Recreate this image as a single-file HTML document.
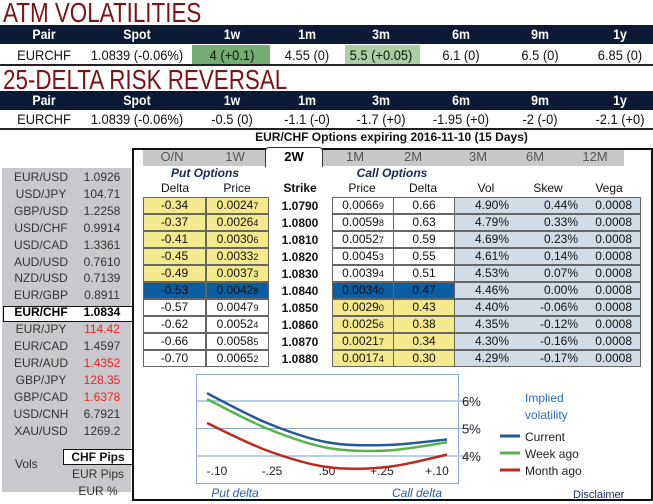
<!DOCTYPE html>
<html><head><meta charset="utf-8">
<style>
*{box-sizing:border-box;margin:0;padding:0}
body{width:653px;height:504px;background:#fff;position:relative;overflow:hidden;font-family:"Liberation Sans",Arial,sans-serif;color:#111}
.abs{position:absolute}
.title{font-family:"Liberation Sans",sans-serif;color:#7a1416;font-size:28px;line-height:24px;left:3px;transform:scaleX(0.8);transform-origin:0 0;white-space:nowrap}
.hbar{left:0;width:653px;height:19px;background:#0c1a36}
.ht{color:#fff;font-weight:bold;font-size:14px;text-align:center;width:80px;margin-left:-40px;top:1px;transform:scaleX(0.88)}
.rt{font-size:14px;text-align:center;width:80px;margin-left:-40px;color:#111;transform:scaleX(0.92);white-space:nowrap}
.line{left:0;width:653px;height:2px;background:#222}
.cell{position:absolute;height:17px;border:1px solid #666;font-size:12px;text-align:center;line-height:15px}
.sm{font-size:12px;text-align:center;position:absolute}
</style></head><body>
<div class="abs title" style="top:1px">ATM VOLATILITIES</div>
<div class="abs hbar" style="top:25px"></div>
<div class="abs" style="left:192px;top:45px;width:78px;height:19px;background:#72ad72"></div>
<div class="abs" style="left:345px;top:45px;width:75px;height:19px;background:#a9d0a2"></div>
<div class="abs line" style="top:64px"></div>
<div class="abs title" style="top:68px">25-DELTA RISK REVERSAL</div>
<div class="abs hbar" style="top:91px"></div>
<div class="abs line" style="top:128px"></div>
<div id="tops"></div>

<div class="abs" style="left:0;width:653px;text-align:center;padding-left:130px;top:130px;font-size:12px;font-weight:bold">EUR/CHF Options expiring 2016-11-10 (15 Days)</div>
<div class="abs" style="left:132px;top:148px;width:521px;height:353px;border:2px solid #111"></div>
<div class="abs" style="left:143px;top:150px;width:481px;height:16px;background:#c8c8c8"></div>
<div class="abs" style="left:265px;top:147px;width:58px;height:20px;background:#fff;border:1px solid #333;border-bottom:none;border-radius:4px 4px 0 0"></div>
<div id="tabs"></div>
<div class="abs" style="left:150px;top:166px;width:110px;text-align:center;font-size:12px;font-weight:bold;font-style:italic;color:#1a2a5a">Put Options</div>
<div class="abs" style="left:337px;top:166px;width:110px;text-align:center;font-size:12px;font-weight:bold;font-style:italic;color:#1a2a5a">Call Options</div>
<div id="grid"></div>

<div class="abs" style="left:2px;top:168px;width:129px;height:324px;background:#c9c9cd"></div>
<div class="abs" style="left:3px;top:306px;width:130px;height:16px;background:#fff;border:1px solid #111"></div>
<div id="fx"></div>
<div class="abs" style="left:63px;top:449px;width:70px;height:16px;background:#fff;border:1px solid #111;font-size:12px;font-weight:bold;text-align:center;line-height:14px">CHF Pips</div>
<div class="abs" style="left:15px;top:457px;font-size:12px;color:#333">Vols</div>
<div class="abs" style="left:63px;top:467px;width:70px;text-align:center;font-size:12px;color:#333">EUR Pips</div>
<div class="abs" style="left:63px;top:484px;width:70px;text-align:center;font-size:12px;color:#333">EUR %</div>

<svg class="abs" style="left:0;top:0" width="653" height="504" id="chart"></svg>

<script>
const cols=[44,137,232,307,381,461,540,620];
const hdr=['Pair','Spot','1w','1m','3m','6m','9m','1y'];
const atmRow=['EURCHF','1.0839 (-0.06%)','4 (+0.1)','4.55 (0)','5.5 (+0.05)','6.1 (0)','6.5 (0)','6.85 (0)'];
const rrRow=['EURCHF','1.0839 (-0.06%)','-0.5 (0)','-1.1 (-0)','-1.7 (+0)','-1.95 (+0)','-2 (-0)','-2.1 (+0)'];
const tops=document.getElementById('tops');
[[26,47,atmRow,'atm'],[92,111,rrRow,'rr']].forEach(([hy,ry,row,p])=>{
 hdr.forEach((h,i)=>{
  const d=document.createElement('div');d.className='abs ht';d.style.left=cols[i]+'px';d.style.top=hy+'px';d.textContent=h;
  
  
  tops.appendChild(d);
  const r=document.createElement('div');r.className='abs rt';r.style.left=cols[i]+'px';r.style.top=ry+'px';r.textContent=row[i];
  if(i===1){r.style.width='120px';r.style.marginLeft='-60px';}
  
  
  tops.appendChild(r);
 });
});
const tabs=['O/N','1W','2W','1M','2M','3M','6M','12M'];
const tabX=[172,235,294,355,413,478,535,595];
const tb=document.getElementById('tabs');
tabs.forEach((t,i)=>{
 const d=document.createElement('div');d.className='abs';
 d.style.cssText=`left:${tabX[i]-25}px;top:149px;width:50px;text-align:center;font-size:13px;color:${i==2?'#000':'#555'};font-weight:${i==2?'bold':'normal'}`;
 d.textContent=t;
 
 
 tb.appendChild(d);
});
const putDelta=['-0.34','-0.37','-0.41','-0.45','-0.49','-0.53','-0.57','-0.62','-0.66','-0.70'];
const putPrice=['0.00247','0.00264','0.00306','0.00332','0.00373','0.00428','0.00479','0.00524','0.00585','0.00652'];
const strikes=['1.0790','1.0800','1.0810','1.0820','1.0830','1.0840','1.0850','1.0860','1.0870','1.0880'];
const callPrice=['0.00669','0.00598','0.00527','0.00453','0.00394','0.00340','0.00290','0.00256','0.00217','0.00174'];
const callDelta=['0.66','0.63','0.59','0.55','0.51','0.47','0.43','0.38','0.34','0.30'];
const vols=['4.90%','4.79%','4.69%','4.61%','4.53%','4.46%','4.40%','4.35%','4.30%','4.29%'];
const skews=['0.44%','0.33%','0.23%','0.14%','0.07%','0.00%','-0.06%','-0.12%','-0.16%','-0.17%'];
const vega=['0.0008','0.0008','0.0008','0.0008','0.0008','0.0008','0.0008','0.0008','0.0008','0.0008'];
const g=document.getElementById('grid');
const heads=[['Delta',175],['Price',237],['Strike',300],['Price',362],['Delta',423],['Vol',486],['Skew',548],['Vega',609]];
heads.forEach(([h,x],i)=>{
 const d=document.createElement('div');d.className='sm';
 d.style.cssText=`left:${x-30}px;top:181px;width:60px;font-size:12px;font-weight:${i==2?'bold':'normal'}`;
 d.textContent=h;
 
 
 g.appendChild(d);
});
const yel='#f4e98c',blu='#0b5ea2',lb='#d2dce7';
function price(s){return s.slice(0,6)+'<span style="font-size:9px">'+s.slice(6)+'</span>';}
for(let r=0;r<10;r++){
 const y=197+r*17;
 const atm=r===5;
 const putBg=atm?blu:(r<5?yel:'#fff');
 const callBg=atm?blu:(r>5?yel:'#fff');
 const cells=[[143,63,putBg,putDelta[r],'put-delta'],[206,63,putBg,price(putPrice[r]),'put-price'],
  [332,62,callBg,price(callPrice[r]),'call-price'],[393,62,callBg,callDelta[r],'call-delta']];
 cells.forEach(([x,w,bg,t,n])=>{
  const d=document.createElement('div');d.className='cell';
  d.style.cssText=`left:${x}px;top:${y}px;width:${w}px;background:${bg}`;
  d.innerHTML=t;
  
  
  g.appendChild(d);
 });
 const b=document.createElement('div');b.className='cell';
 b.style.cssText=`left:454px;top:${y}px;width:187px;background:${lb};text-align:left`;
 b.innerHTML=`<span style="position:absolute;left:20px">${vols[r]}</span><span style="position:absolute;right:62px">${skews[r]}</span><span style="position:absolute;right:8px">${vega[r]}</span>`;
 
 
 g.appendChild(b);
 const s=document.createElement('div');s.className='sm';
 s.style.cssText=`left:270px;top:${y+2}px;width:60px;font-weight:bold`;
 s.textContent=strikes[r];
 
 
 g.appendChild(s);
}
const pairs=['EUR/USD','USD/JPY','GBP/USD','USD/CHF','USD/CAD','AUD/USD','NZD/USD','EUR/GBP','EUR/CHF','EUR/JPY','EUR/CAD','EUR/AUD','GBP/JPY','GBP/CAD','USD/CNH','XAU/USD'];
const rates=['1.0926','104.71','1.2258','0.9914','1.3361','0.7610','0.7139','0.8911','1.0834','114.42','1.4597','1.4352','128.35','1.6378','6.7921','1269.2'];
const red=[9,11,12,13];
const fx=document.getElementById('fx');
pairs.forEach((p,i)=>{
 const y=170+i*16.9;
 const sel=i===8;
 const d=document.createElement('div');d.className='abs';
 d.style.cssText=`left:8px;top:${y}px;width:66px;text-align:center;font-size:12px;color:${sel?'#000':'#333'};font-weight:${sel?'bold':'normal'}`;
 d.textContent=p;
 
 
 fx.appendChild(d);
 const v=document.createElement('div');v.className='abs';
 v.style.cssText=`left:78px;top:${y}px;width:48px;text-align:center;font-size:12px;color:${red.includes(i)?'#ee2222':(sel?'#000':'#333')};font-weight:${sel?'bold':'normal'}`;
 v.textContent=rates[i];
 
 
 fx.appendChild(v);
});
const xLabels=['-.10','-.25','.50','+.25','+.10'];
const yTicks=[4,5,6];
const current=[6.28,5.2,4.5,4.4,4.6];
const weekAgo=[6.07,5.0,4.3,4.2,4.5];
const monthAgo=[5.2,4.2,3.6,3.6,4.05];
const NS='http://www.w3.org/2000/svg';
const svg=document.getElementById('chart');
function X(i){return 207+i*60;}
function Y(v){return 456-(v-4)*27.5;}
function el(t,a){const e=document.createElementNS(NS,t);for(const k in a)e.setAttribute(k,a[k]);svg.appendChild(e);return e;}
const frame=el('rect',{x:196.5,y:374.5,width:262,height:109,fill:'#fff',stroke:'#8eaad0'});


yTicks.forEach(t=>{
 const l=el('line',{x1:197,x2:470,y1:Y(t),y2:Y(t),stroke:t===5?'#8eaad0':'#b9cde6','stroke-width':t===5?1:2});
 
 
 const tx=el('text',{x:462,y:Y(t)+5,'font-size':13,fill:'#222','font-family':'Liberation Sans,sans-serif'});
 tx.textContent=t+'%';
 
 
});
xLabels.forEach((s,i)=>{
 const t=el('text',{x:217+i*55,y:475,'font-size':12,fill:'#222','text-anchor':'middle','font-family':'Liberation Sans,sans-serif'});
 t.textContent=s;
 
 
});
function smooth(vals){
 const p=vals.map((v,i)=>[X(i),Y(v)]);
 let d=`M${p[0][0]},${p[0][1]}`;
 for(let i=0;i<p.length-1;i++){
  const p0=p[Math.max(0,i-1)],p1=p[i],p2=p[i+1],p3=p[Math.min(p.length-1,i+2)];
  d+=` C${p1[0]+(p2[0]-p0[0])/6},${p1[1]+(p2[1]-p0[1])/6} ${p2[0]-(p3[0]-p1[0])/6},${p2[1]-(p3[1]-p1[1])/6} ${p2[0]},${p2[1]}`;
 }
 return d;
}
[[monthAgo,'#c0281c','month-ago'],[weekAgo,'#55b548','week-ago'],[current,'#25599c','current']].forEach(([v,c,n])=>{
 const pth=el('path',{d:smooth(v),fill:'none',stroke:c,'stroke-width':2.5});
 
 
});
const texts=[[235,497,'Put delta','#2a5ca8','italic','middle','put-delta-label'],[417,497,'Call delta','#2a5ca8','italic','middle','call-delta-label'],
 [525,402,'Implied','#2a6cb8','normal','start','legend-title-1'],[525,419,'volatility','#2a6cb8','normal','start','legend-title-2'],
 [525,441,'Current','#222','normal','start','legend-current'],[525,458,'Week ago','#222','normal','start','legend-week-ago'],[525,475,'Month ago','#222','normal','start','legend-month-ago']];
texts.forEach(([x,y,s,c,st,a,n])=>{
 const t=el('text',{x:x,y:y,'font-size':12,fill:c,'font-style':st,'text-anchor':a,'font-family':'Liberation Sans,sans-serif'});
 t.textContent=s;
 
 
});
[['#25599c',436],['#55b548',453],['#c0281c',470]].forEach(([c,y],i)=>{
 const l=el('line',{x1:500,x2:520,y1:y,y2:y,stroke:c,'stroke-width':3});
 
 
});
const dc=el('text',{x:573,y:498,'font-size':11,fill:'#1a2a5a','font-family':'Liberation Sans,sans-serif'});
dc.textContent='Disclaimer';


</script>
</body></html>
